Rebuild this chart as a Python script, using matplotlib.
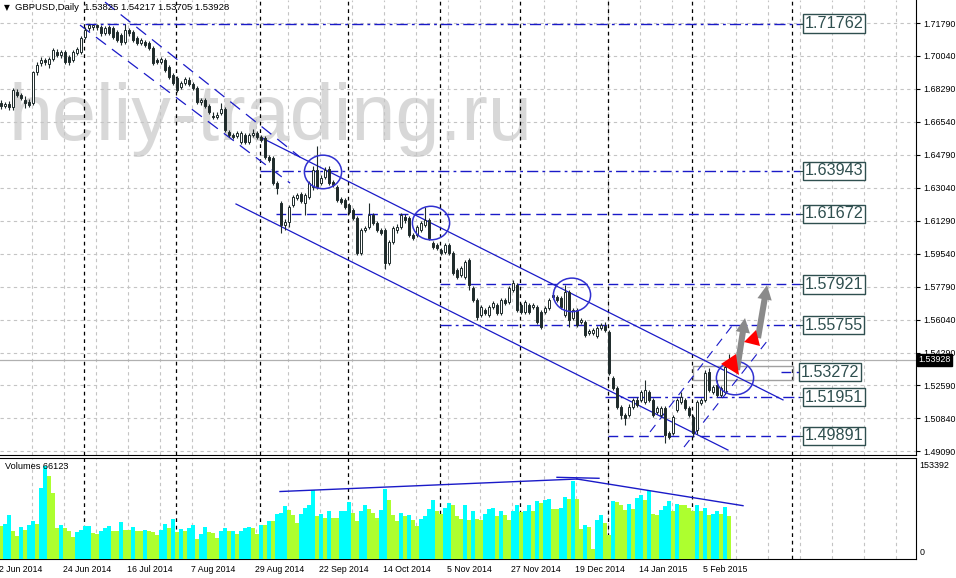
import numpy as np
import matplotlib
matplotlib.use("Agg")
import matplotlib.pyplot as plt
from matplotlib.patches import Ellipse, Polygon, Rectangle
from matplotlib.transforms import blended_transform_factory

plt.rcParams['font.family'] = ['Liberation Sans', 'DejaVu Sans']

# GBPUSD daily, bar 0 = 2 Jun 2014, last bar = 13 Feb 2015
opens = [
    1.6755, 1.6739, 1.6750, 1.6734, 1.6813, 1.6797, 1.6771, 1.6760, 1.6755, 1.6919,
    1.6967, 1.6983, 1.6962, 1.6988, 1.7025, 1.7009, 1.7025, 1.6999, 1.6983, 1.7020,
    1.7025, 1.7105, 1.7153, 1.7158, 1.7168, 1.7158, 1.7126, 1.7158, 1.7153, 1.7131,
    1.7115, 1.7078, 1.7142, 1.7131, 1.7100, 1.7073, 1.7078, 1.7073, 1.7047, 1.6983,
    1.6972, 1.6983, 1.6946, 1.6903, 1.6887, 1.6840, 1.6861, 1.6877, 1.6856, 1.6834,
    1.6760, 1.6771, 1.6739, 1.6686, 1.6681, 1.6702, 1.6723, 1.6601, 1.6585, 1.6580,
    1.6548, 1.6585, 1.6548, 1.6585, 1.6596, 1.6575, 1.6570, 1.6469, 1.6464, 1.6331,
    1.6225, 1.6108, 1.6124, 1.6214, 1.6251, 1.6273, 1.6225, 1.6257, 1.6310, 1.6400,
    1.6331, 1.6363, 1.6405, 1.6336, 1.6310, 1.6246, 1.6241, 1.6214, 1.6188, 1.6145,
    1.5960, 1.6082, 1.6098, 1.6161, 1.6119, 1.6082, 1.6082, 1.5907, 1.6018, 1.6082,
    1.6098, 1.6151, 1.6145, 1.6055, 1.6055, 1.6082, 1.6108, 1.6135, 1.6013, 1.6002,
    1.5976, 1.5965, 1.6002, 1.5960, 1.5870, 1.5843, 1.5833, 1.5923, 1.5775, 1.5711,
    1.5631, 1.5658, 1.5631, 1.5674, 1.5684, 1.5642, 1.5711, 1.5700, 1.5764, 1.5790,
    1.5684, 1.5647, 1.5684, 1.5674, 1.5674, 1.5647, 1.5647, 1.5669, 1.5727, 1.5727,
    1.5721, 1.5631, 1.5753, 1.5616, 1.5658, 1.5594, 1.5594, 1.5536, 1.5536, 1.5520,
    1.5563, 1.5573, 1.5541, 1.5298, 1.5245, 1.5144, 1.5101, 1.5101, 1.5144, 1.5181,
    1.5181, 1.5170, 1.5223, 1.5181, 1.5117, 1.5101, 1.5139, 1.5006, 1.5006, 1.5128,
    1.5170, 1.5181, 1.5139, 1.5091, 1.5022, 1.5165, 1.5181, 1.5329, 1.5223, 1.5260,
    1.5207, 1.5223, 1.53825]
highs = [
    1.6771, 1.6760, 1.6765, 1.6834, 1.6830, 1.6808, 1.6790, 1.6775, 1.6925, 1.6972,
    1.6999, 1.6994, 1.6999, 1.7047, 1.7041, 1.7036, 1.7036, 1.7009, 1.7036, 1.7052,
    1.7110, 1.7158, 1.7173, 1.7171, 1.7174, 1.7168, 1.7163, 1.7168, 1.7163, 1.7142,
    1.7126, 1.71762, 1.7153, 1.7142, 1.7110, 1.7100, 1.7089, 1.7084, 1.7057, 1.6994,
    1.6999, 1.6994, 1.6956, 1.6914, 1.6898, 1.6872, 1.6893, 1.6893, 1.6866, 1.6845,
    1.6781, 1.6781, 1.6750, 1.6707, 1.6707, 1.6755, 1.6734, 1.6612, 1.6596, 1.6606,
    1.6606, 1.6596, 1.6596, 1.6617, 1.6606, 1.6585, 1.6580, 1.6480, 1.6475, 1.6341,
    1.6236, 1.6140, 1.6214, 1.6267, 1.6278, 1.6283, 1.6278, 1.6341, 1.6420, 1.6527,
    1.6373, 1.6416, 1.6420, 1.6347, 1.6320, 1.6257, 1.6251, 1.6225, 1.6198, 1.6156,
    1.6093, 1.6103, 1.6225, 1.6172, 1.6130, 1.6093, 1.6093, 1.6029, 1.6103, 1.6114,
    1.6172, 1.6167, 1.6156, 1.6066, 1.6108, 1.6130, 1.6204, 1.6145, 1.6024, 1.6013,
    1.5987, 1.6013, 1.6013, 1.5971, 1.5880, 1.5891, 1.5923, 1.5933, 1.5785, 1.5721,
    1.5684, 1.5668, 1.5684, 1.5705, 1.5695, 1.5721, 1.5721, 1.5785, 1.5817, 1.5801,
    1.5695, 1.5711, 1.5695, 1.5695, 1.5684, 1.5658, 1.5679, 1.5721, 1.5748, 1.5737,
    1.5732, 1.5790, 1.5764, 1.5668, 1.5668, 1.5616, 1.5605, 1.5557, 1.5563, 1.5573,
    1.5589, 1.5594, 1.5552, 1.5308, 1.5255, 1.5154, 1.5112, 1.5160, 1.5192, 1.5197,
    1.5234, 1.5287, 1.5234, 1.5192, 1.5150, 1.5150, 1.5150, 1.5017, 1.5101, 1.5192,
    1.5223, 1.5192, 1.5150, 1.5101, 1.5181, 1.5192, 1.5340, 1.5350, 1.5260, 1.5287,
    1.5255, 1.5366, 1.54217]
lows = [
    1.6723, 1.6729, 1.6718, 1.6718, 1.6785, 1.6770, 1.6729, 1.6734, 1.6745, 1.6905,
    1.6951, 1.6956, 1.6940, 1.6978, 1.6999, 1.6994, 1.6962, 1.6956, 1.6972, 1.7009,
    1.7015, 1.7094, 1.7137, 1.7142, 1.7142, 1.7110, 1.7115, 1.7115, 1.7094, 1.7078,
    1.7062, 1.7068, 1.7110, 1.7078, 1.7062, 1.7062, 1.7052, 1.7036, 1.6956, 1.6962,
    1.6962, 1.6919, 1.6882, 1.6850, 1.6813, 1.6829, 1.6850, 1.6845, 1.6824, 1.6750,
    1.6744, 1.6729, 1.6697, 1.6670, 1.6670, 1.6691, 1.6601, 1.6575, 1.6564, 1.6570,
    1.6538, 1.6538, 1.6538, 1.6575, 1.6564, 1.6548, 1.6459, 1.6443, 1.6320, 1.6273,
    1.6066, 1.6082, 1.6098, 1.6204, 1.6241, 1.6225, 1.6161, 1.6246, 1.6294, 1.6299,
    1.6320, 1.6352, 1.6320, 1.6310, 1.6230, 1.6220, 1.6193, 1.6167, 1.6135, 1.5949,
    1.5949, 1.6071, 1.6088, 1.6108, 1.6071, 1.6055, 1.5875, 1.5896, 1.6008, 1.6066,
    1.6088, 1.6119, 1.6045, 1.6029, 1.6045, 1.6071, 1.6098, 1.6029, 1.5981, 1.5976,
    1.5949, 1.5955, 1.5949, 1.5843, 1.5822, 1.5833, 1.5822, 1.5764, 1.5700, 1.5605,
    1.5621, 1.5631, 1.5621, 1.5663, 1.5631, 1.5631, 1.5684, 1.5690, 1.5753, 1.5647,
    1.5637, 1.5637, 1.5637, 1.5663, 1.5584, 1.5557, 1.5637, 1.5658, 1.5716, 1.5700,
    1.5663, 1.5621, 1.5568, 1.5605, 1.5568, 1.5584, 1.5515, 1.5525, 1.5525, 1.5509,
    1.5552, 1.5541, 1.5314, 1.5234, 1.5133, 1.5080, 1.5048, 1.5090, 1.5133, 1.5144,
    1.5170, 1.5160, 1.5170, 1.5090, 1.5106, 1.5090, 1.4952, 1.4975, 1.4995, 1.5117,
    1.5160, 1.5128, 1.5090, 1.4985, 1.5001, 1.5154, 1.5170, 1.5223, 1.5212, 1.5197,
    1.5197, 1.5212, 1.53705]
closes = [
    1.6739, 1.6750, 1.6734, 1.6824, 1.6797, 1.6781, 1.6755, 1.6744, 1.6919, 1.6956,
    1.6983, 1.6972, 1.6988, 1.7036, 1.7009, 1.7025, 1.6972, 1.6972, 1.7025, 1.7041,
    1.7100, 1.7142, 1.7168, 1.7168, 1.7158, 1.7126, 1.7153, 1.7126, 1.7105, 1.7089,
    1.7078, 1.7142, 1.7126, 1.7089, 1.7073, 1.7089, 1.7062, 1.7047, 1.6967, 1.6972,
    1.6988, 1.6930, 1.6893, 1.6861, 1.6824, 1.6861, 1.6882, 1.6856, 1.6834, 1.6760,
    1.6771, 1.6739, 1.6707, 1.6681, 1.6691, 1.6723, 1.6612, 1.6585, 1.6575, 1.6596,
    1.6596, 1.6548, 1.6585, 1.6596, 1.6575, 1.6559, 1.6469, 1.6453, 1.6331, 1.6304,
    1.6108, 1.6124, 1.6204, 1.6257, 1.6267, 1.6236, 1.6267, 1.6331, 1.6400, 1.6310,
    1.6358, 1.6400, 1.6331, 1.6320, 1.6241, 1.6230, 1.6204, 1.6177, 1.6145, 1.5960,
    1.6082, 1.6093, 1.6161, 1.6119, 1.6082, 1.6066, 1.5907, 1.6018, 1.6093, 1.6098,
    1.6161, 1.6135, 1.6055, 1.6040, 1.6098, 1.6119, 1.6135, 1.6040, 1.5992, 1.5987,
    1.5960, 1.6002, 1.5960, 1.5854, 1.5833, 1.5880, 1.5912, 1.5790, 1.5711, 1.5621,
    1.5674, 1.5642, 1.5674, 1.5695, 1.5642, 1.5711, 1.5695, 1.5775, 1.5801, 1.5658,
    1.5647, 1.5700, 1.5647, 1.5684, 1.5594, 1.5568, 1.5669, 1.5711, 1.5737, 1.5711,
    1.5674, 1.5753, 1.5605, 1.5658, 1.5578, 1.5605, 1.5525, 1.5547, 1.5552, 1.5563,
    1.5578, 1.5552, 1.5324, 1.5245, 1.5144, 1.5101, 1.5085, 1.5144, 1.5181, 1.5154,
    1.5223, 1.5234, 1.5181, 1.5101, 1.5139, 1.5139, 1.4995, 1.4985, 1.5091, 1.5181,
    1.5197, 1.5139, 1.5101, 1.5006, 1.5170, 1.5181, 1.5324, 1.5234, 1.5250, 1.5207,
    1.5245, 1.5356, 1.53928]
volumes = [
    50100, 54200, 68000, 42400, 35800, 49100, 45000, 52700, 58800, 54200,
    108900, 142100, 126800, 101200, 47600, 52700, 47600, 42400, 33700, 40900,
    45000, 50100, 51100, 39900, 38900, 42400, 47600, 50100, 42400, 42400,
    56200, 45000, 45000, 49100, 42400, 42400, 44000, 42900, 40900, 37300,
    45000, 54200, 48100, 61900, 40900, 46000, 43500, 47600, 52700, 30700,
    38900, 49100, 40900, 39900, 32200, 42400, 47600, 42400, 43500, 38900,
    42400, 47600, 49100, 47600, 38900, 52700, 52700, 58800, 57800, 69500,
    70600, 81800, 75700, 68000, 55200, 69500, 78200, 83300, 105300, 65400,
    69500, 62900, 74100, 62900, 62900, 73100, 74100, 87400, 70600, 57800,
    73100, 83300, 76700, 70600, 62900, 75700, 107400, 91000, 68000, 58800,
    70600, 65400, 68000, 60300, 51100, 61400, 65400, 76700, 91000, 74100,
    69500, 78200, 85900, 83300, 66500, 61900, 83300, 60300, 73100, 61900,
    60500, 69500, 76700, 78200, 66400, 74100, 68000, 59300, 73100, 83300,
    71500, 74100, 83300, 73100, 88400, 85900, 91000, 92500, 77200, 77200,
    78200, 94500, 92500, 120100, 92500, 46500, 52600, 49100, 15800, 60300,
    66900, 55200, 36300, 89400, 87400, 83300, 75600, 84800, 76700, 93500,
    98600, 89900, 103700, 69500, 68000, 75600, 81800, 89400, 73100, 84300,
    83300, 83300, 78200, 73100, 83300, 73100, 78200, 68000, 69500, 74100,
    69500, 79700, 66123]

price_ticks = [1.71790, 1.70040, 1.68290, 1.66540, 1.64790, 1.63040, 1.61290,
               1.59540, 1.57790, 1.56040, 1.54290, 1.52590, 1.50840, 1.49090]
date_labels = ['2 Jun 2014', '24 Jun 2014', '16 Jul 2014', '7 Aug 2014', '29 Aug 2014',
               '22 Sep 2014', '14 Oct 2014', '5 Nov 2014', '27 Nov 2014', '19 Dec 2014',
               '14 Jan 2015', '5 Feb 2015']
date_bars = [0, 16, 32, 48, 64, 80, 96, 112, 128, 144, 160, 176]
month_breaks = [20.75, 43.75, 64.75, 86.75, 109.75, 129.75, 151.75, 172.75, 197.75]

# horizontal levels: price, first bar, style
levels = [1.71762, 1.63943, 1.61672, 1.57921, 1.55755, 1.53272, 1.51951, 1.49891]
level_from = [21, 64.75, 68.75, 109.75, 109.75, 195, 151, 151.75]
level_dash = ['dd', 'dd', 'd', 'd', 'dd', 'd', 'dd', 'd']
level_to = 199.75

# trend lines: (bar, price) pairs
channel_lines = [((65.25, 1.6569), (195.5, 1.5180)),
                 ((58.75, 1.6219), (181.75, 1.4914))]
early_lines = [((26.0, 1.7290), (74.75, 1.6468)),
               ((19.75, 1.7168), (72.25, 1.6330))]
rise_lines = [((162.25, 1.5010), (183.5, 1.5593)),
              ((170.75, 1.4930), (191.75, 1.5498))]
circles = [(80.5, 1.6389), (107.5, 1.6118), (142.75, 1.5737), (183.5, 1.5296)]
vol_lines = [((69.75, 103500), (144, 122700)),
             ((139, 125300), (149.5, 123800)),
             ((144, 122700), (185.5, 81800))]

W, H = 956, 578
fig = plt.figure(figsize=(W / 100, H / 100), dpi=100)


def box(left, top, right, bottom):
    return [left / W, 1 - bottom / H, (right - left) / W, (bottom - top) / H]


ax = fig.add_axes(box(0, 0, 916, 455))
axv = fig.add_axes(box(0, 457.5, 916, 559))

dark = '#1f2b2b'
blue = '#1a1ac8'
grid_c = '#c4c4c4'
n = len(closes)
idx = np.arange(n)
o = np.array(opens); c = np.array(closes)
hi = np.maximum(np.array(highs), np.maximum(o, c))
lo = np.minimum(np.array(lows), np.minimum(o, c))

for a in (ax, axv):
    a.set_xlim(-0.25, 228.75)
    for k in range(1, 29):
        a.axvline(8 * k - 0.25, color=grid_c, lw=0.8, ls=(0, (3, 3)), zorder=1)
    for m in month_breaks:
        a.axvline(m, color='black', lw=0.9, ls=(0, (3, 3)), zorder=2)
    a.spines['left'].set_visible(False)
    a.tick_params(axis='x', which='both', bottom=False, labelbottom=False)

ax.set_ylim(1.48878, 1.73010)
for p in price_ticks:
    ax.axhline(p, color=grid_c, lw=0.8, ls=(0, (3, 3)), zorder=1)
ax.spines['top'].set_visible(False)
ax.yaxis.tick_right()
ax.set_yticks(price_ticks)
ax.set_yticklabels(['%.5f' % p for p in price_ticks])
ax.tick_params(axis='y', length=3, pad=2, labelsize=6.4)

# watermark
ax.text(8 / 916, (455 - 140) / 455, 'heliy-trading.ru', transform=ax.transAxes,
        fontsize=57, color='#d8d8d8', va='baseline', ha='left', zorder=0.5)

# candles
ax.vlines(idx, lo, hi, color=dark, lw=0.8, zorder=4)
up = c >= o
body = np.maximum(np.abs(c - o), 0.00025)
ax.bar(idx, body, bottom=np.minimum(o, c), width=0.62,
       color=np.where(up, 'white', dark), edgecolor=dark, linewidth=0.7, zorder=5)

# bid line
ax.axhline(closes[-1], color='#b0b0b0', lw=0.9, zorder=2)
tr = blended_transform_factory(ax.transAxes, ax.transData)
ax.text(1.003, closes[-1], '%.5f' % closes[-1], transform=tr, va='center', ha='left',
        fontsize=6.4, color='white', zorder=10, clip_on=False,
        bbox=dict(boxstyle='square,pad=0.15', fc='black', ec='black'))

# levels
styles = {'dd': (0, (8, 3, 2, 3)), 'd': (0, (7, 4))}
for p, x0, st in zip(levels, level_from, level_dash):
    ax.plot([x0, level_to], [p, p], color=blue, lw=1.0, ls=styles[st], zorder=3)
    ax.plot([level_to, 200.6], [p, p], color='#2f4f4f', lw=0.8, zorder=3)
    xc = 207.2 if p == 1.53272 else 208.2
    ax.text(xc, p, '%.5f' % p, ha='center', va='center', fontsize=11.6, color='#2f4f4f',
            zorder=9, bbox=dict(boxstyle='square,pad=0.1', fc='white', ec='#2f4f4f', lw=1))
ax.add_patch(Rectangle((173, 1.5286), 25, 0.0074, fill=False, ec='#a0a0a0', lw=1, zorder=3))

for (x0, y0), (x1, y1) in channel_lines:
    ax.plot([x0, x1], [y0, y1], color=blue, lw=0.9, zorder=3)
for (x0, y0), (x1, y1) in early_lines:
    ax.plot([x0, x1], [y0, y1], color=blue, lw=0.9, ls=(0, (10, 6)), zorder=3)
for (x0, y0), (x1, y1) in rise_lines:
    ax.plot([x0, x1], [y0, y1], color=blue, lw=0.8, ls=(0, (8, 6)), zorder=3)
for cx, cy in circles:
    ax.add_patch(Ellipse((cx, cy), 9.3, 0.0178, fill=False, ec='#3030d0', lw=1.1, zorder=6))

# arrows
for tail, tip in [((184.0, 1.5339), (186.0, 1.5614)), ((189.25, 1.5508), (191.5, 1.5789))]:
    ax.annotate('', xy=tip, xytext=tail, zorder=7,
                arrowprops=dict(arrowstyle='simple,head_length=1.3,head_width=1.3,tail_width=0.55',
                                fc='#8a8a8a', ec='none', mutation_scale=8, shrinkA=0, shrinkB=0))
ax.add_patch(Polygon([(180.0, 1.53705), (183.75, 1.54235), (184.5, 1.53121)], closed=True,
                     fc='#ff0000', ec='none', zorder=8))
ax.add_patch(Polygon([(185.75, 1.54871), (188.75, 1.55508), (189.75, 1.54659)], closed=True,
                     fc='#ff0000', ec='none', zorder=8))

# volumes
vol = np.array(volumes)
vcol = ['#adff2f'] + ['#00ffff' if vol[i] > vol[i - 1] else '#adff2f' for i in range(1, n)]
axv.bar(idx, vol, width=0.82, color=vcol, linewidth=0, zorder=3)
axv.set_ylim(0, 155693)
axv.set_yticks([])
for (x0, y0), (x1, y1) in vol_lines:
    axv.plot([x0, x1], [y0, y1], color=blue, lw=1.0, zorder=4)
axv.text(1.004, 0.926, '153392', transform=axv.transAxes, fontsize=6.4, va='center', ha='left')
axv.text(1.004, 0.06, '0', transform=axv.transAxes, fontsize=6.4, va='center', ha='left')
axv.text(5 / 916, 0.915, 'Volumes %d' % volumes[-1], transform=axv.transAxes,
         fontsize=6.6, va='center', ha='left', zorder=6)

trv = blended_transform_factory(axv.transData, axv.transAxes)
for b, lab in zip(date_bars, date_labels):
    axv.text(b - 0.5, -0.1, lab, transform=trv, fontsize=6.3, va='center', ha='left',
             clip_on=False)

# header
fig.text(4 / W, 1 - 7.5 / H, '\u25bc', fontsize=5.5, va='center', ha='left',
         family=['DejaVu Sans'])
fig.text(15 / W, 1 - 7.5 / H, 'GBPUSD,Daily  %.5f %.5f %.5f %.5f' % (
    opens[-1], highs[-1], lows[-1], closes[-1]), fontsize=6.8, va='center', ha='left')

fig.savefig('out.png', dpi=100, facecolor='white')
